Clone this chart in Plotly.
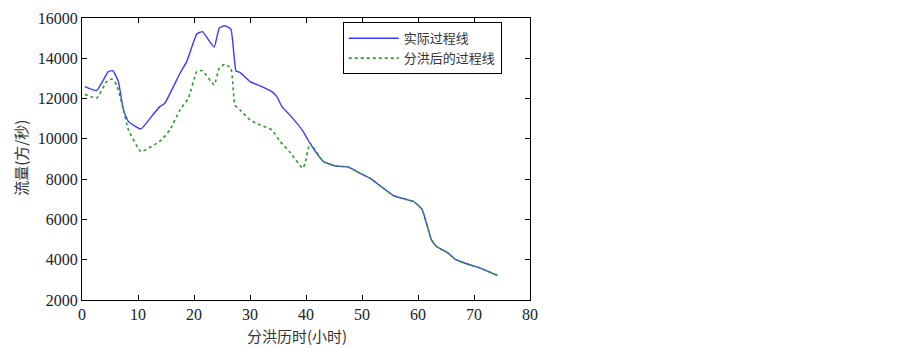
import plotly.graph_objects as go

# Actual flood hydrograph (blue)
t_actual = [0.5, 2.6, 4.7, 5.5, 6.5, 7.4, 8.3, 10.5, 12.4, 13.9, 14.8, 17.5, 18.7, 20.5,
            21.5, 23.6, 24.5, 25.5, 26.6, 27.5, 28.2, 30, 32.1, 33.9, 34.8, 35.7, 37.1,
            39.5, 40.7, 43.1, 45.2, 47.6, 49.6, 51.4, 53.8, 55.6, 57.7, 59.2, 60.7, 61.5,
            62.4, 63.3, 65.4, 66.6, 68.7, 71.1, 74.2]
q_actual = [12593, 12394, 13337, 13386, 12840, 11437, 10857, 10494, 11105, 11600, 11770,
            13257, 13833, 15206, 15320, 14547, 15489, 15618, 15440, 13370, 13300, 12840,
            12593, 12345, 12097, 11600, 11189, 10360, 9785, 8873, 8660, 8595, 8297, 8049,
            7553, 7187, 7008, 6890, 6511, 5817, 4989, 4656, 4329, 4031, 3798, 3585, 3219]

# Hydrograph after flood diversion (green dashed)
t_div = [0.5, 2.6, 4.4, 5.3, 6.2, 7.1, 8.3, 10.5, 12.4, 14.2, 15.7, 17.5, 19, 20.5, 21.5,
         23.6, 24.5, 25.5, 26.6, 27.3, 28.2, 30, 31.8, 33.9, 35.4, 37.1, 39.4, 39.8, 40.7,
         43.1, 45.2, 47.6, 49.6, 51.4, 53.8, 55.6, 57.7, 59.2, 60.7, 61.5, 62.4, 63.3,
         65.4, 66.6, 68.7, 71.1, 74.2]
q_div = [12215, 12017, 12840, 12974, 12677, 11770, 10445, 9370, 9617, 9949, 10445, 11437,
         12017, 13337, 13386, 12677, 13505, 13703, 13505, 11685, 11437, 10941, 10693,
         10445, 9865, 9350, 8545, 8750, 9785, 8873, 8660, 8595, 8297, 8049, 7553, 7187,
         7008, 6890, 6511, 5817, 4989, 4656, 4329, 4031, 3798, 3585, 3219]

x_ticks = [0, 10, 20, 30, 40, 50, 60, 70, 80]
y_ticks = [2000, 4000, 6000, 8000, 10000, 12000, 14000, 16000]

names = ["实际过程线", "分洪后的过程线"]
x_title = "分洪历时(小时)"
y_title = "流量(方/秒)"

FONT = "Times New Roman, Liberation Serif, serif"
CJK = "Noto Sans CJK SC, sans-serif"

fig = go.Figure()
fig.add_trace(go.Scatter(x=t_actual, y=q_actual, mode="lines", name=names[0],
                         line=dict(color="#3b3bff", width=1.4, shape="spline", smoothing=0.4)))
fig.add_trace(go.Scatter(x=t_div, y=q_div, mode="lines", name=names[1],
                         line=dict(color="#2e9b2e", width=1.6, dash="3px,3px",
                                   shape="spline", smoothing=0.4)))

axis_common = dict(showline=True, linecolor="black", linewidth=1.2, mirror="ticks",
                   ticks="inside", ticklen=5, tickcolor="black", tickwidth=1,
                   showgrid=False, zeroline=False, automargin=False,
                   tickfont=dict(family=FONT, size=16, color="#222"))

# page body has an 8px margin, so the figure is made 8px smaller and shifted
fig.update_layout(
    width=895, height=340,
    margin=dict(l=74, r=373, t=10, b=48, autoexpand=False),
    paper_bgcolor="white", plot_bgcolor="white",
    xaxis=dict(range=[0, 80], tickvals=x_ticks, ticktext=[str(v) for v in x_ticks],
               ticklabelstandoff=0, **axis_common),
    yaxis=dict(range=[2000, 16000], tickvals=y_ticks, ticktext=[str(v) for v in y_ticks],
               ticklabelstandoff=0, **axis_common),
    legend=dict(x=0.582, y=0.985, xanchor="left", yanchor="top",
                bordercolor="black", borderwidth=1, bgcolor="white",
                font=dict(family=CJK, size=13, color="#333"),
                tracegroupgap=0, itemwidth=50),
    showlegend=True,
    annotations=[
        dict(text=x_title, xref="paper", yref="paper", x=0.48, y=-0.127,
             xanchor="center", yanchor="middle", showarrow=False,
             font=dict(family=CJK, size=15, color="#333")),
        dict(text=y_title, xref="paper", yref="paper", x=-0.138, y=0.505,
             xanchor="center", yanchor="middle", showarrow=False, textangle=-90,
             font=dict(family=CJK, size=15, color="#333")),
    ],
)

fig.write_html("out.html")
